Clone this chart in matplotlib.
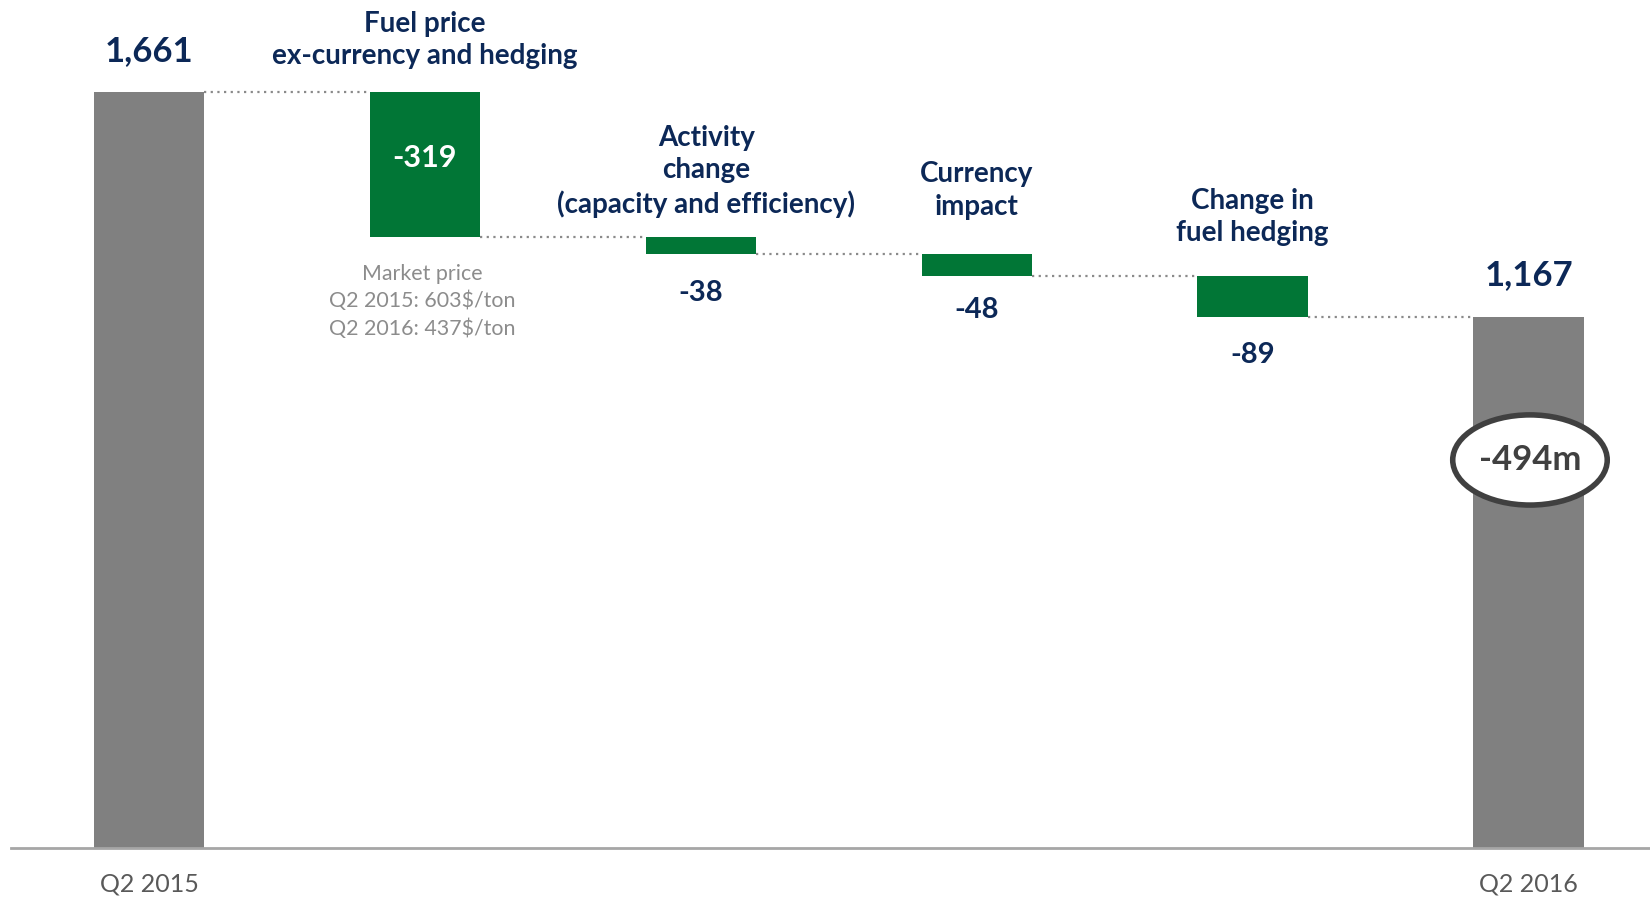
import matplotlib
matplotlib.use("Agg")
import matplotlib.pyplot as plt
from matplotlib.patches import Ellipse
import numpy as np

# ---- data ----
categories = ["Q2 2015", "Fuel price\nex-currency and hedging",
              "Activity\nchange\n(capacity and efficiency)",
              "Currency\nimpact", "Change in\nfuel hedging", "Q2 2016"]
values = [1661, -319, -38, -48, -89, 1167]
totals = [True, False, False, False, False, True]
value_labels = ["1,661", "-319", "-38", "-48", "-89", "1,167"]
tick_labels = ["Q2 2015", "", "", "", "", "Q2 2016"]
note = "Market price\nQ2 2015: 603$/ton\nQ2 2016: 437$/ton"
delta_label = "-494m"

NAVY = "#0c2857"
GREEN = "#017636"
GREY = "#808080"
FONT = "Lato"

plt.rcParams["font.family"] = [FONT, "DejaVu Sans"]

fig = plt.figure(figsize=(16.5, 8.99), dpi=100)
ax = fig.add_axes([0, 0, 1, 1])
ax.set_xlim(-0.54, 5.44)
ax.set_ylim(-112, 1862)
ax.axis("off")

W = 0.40
x = np.arange(len(values))
bottoms, tops = [], []
level = 0
for v, t in zip(values, totals):
    if t:
        bottoms.append(0); tops.append(v); level = v
    else:
        bottoms.append(level + v); tops.append(level); level = level + v

for i in range(len(values)):
    ax.bar(x[i], tops[i] - bottoms[i], bottom=bottoms[i], width=W,
           color=GREY if totals[i] else GREEN, zorder=2)

# dotted connectors
for i in range(len(values) - 1):
    lvl = bottoms[i] if not totals[i] else tops[i]
    ax.plot([x[i] + W / 2, x[i + 1] - W / 2], [lvl, lvl], ls=(0, (1, 2)),
            color="#8a8a8a", lw=1.6, zorder=1)

# baseline
ax.plot([-0.5, 5.44], [0, 0], color="#a6a6a6", lw=2, zorder=3)

# totals labels
ax.text(x[0], tops[0] + 90, value_labels[0], ha="center", va="center",
        fontsize=25, fontweight="bold", color=NAVY)
ax.text(x[5], tops[5] + 90, value_labels[5], ha="center", va="center",
        fontsize=25, fontweight="bold", color=NAVY)

# first delta inside the bar
ax.text(x[1], tops[1] - 145, value_labels[1], ha="center", va="center",
        fontsize=22, fontweight="bold", color="white")
# other deltas below bars
for i, off in zip([2, 3, 4], [85, 75, 85]):
    ax.text(x[i], bottoms[i] - off, value_labels[i], ha="center", va="center",
            fontsize=21, fontweight="bold", color=NAVY)

# category titles
for i, off, dx in zip([1, 2, 3, 4], [113, 144, 140, 130], [0, 0.02, 0, 0]):
    ax.text(x[i] + dx, tops[i] + off, categories[i], ha="center", va="center",
            fontsize=20, fontweight="bold", color=NAVY, linespacing=1.3)

# market price note
ax.text(x[1] - 0.01, bottoms[1] - 142, note, ha="center", va="center",
        fontsize=15.4, color="#8c8c8c", linespacing=1.45)

# tick labels
for i, lab in enumerate(tick_labels):
    if lab:
        ax.text(x[i], -78, lab, ha="center", va="center", fontsize=18,
                color="#595959")

# delta ellipse
ell = Ellipse((x[5] + 0.005, 852), width=0.56, height=198, facecolor="white",
              edgecolor="#404040", lw=4, zorder=4)
ax.add_patch(ell)
ax.text(x[5] + 0.005, 852, delta_label, ha="center", va="center", fontsize=25,
        fontweight="bold", color="#404040", zorder=5)

fig.savefig("out.png", dpi=100)
